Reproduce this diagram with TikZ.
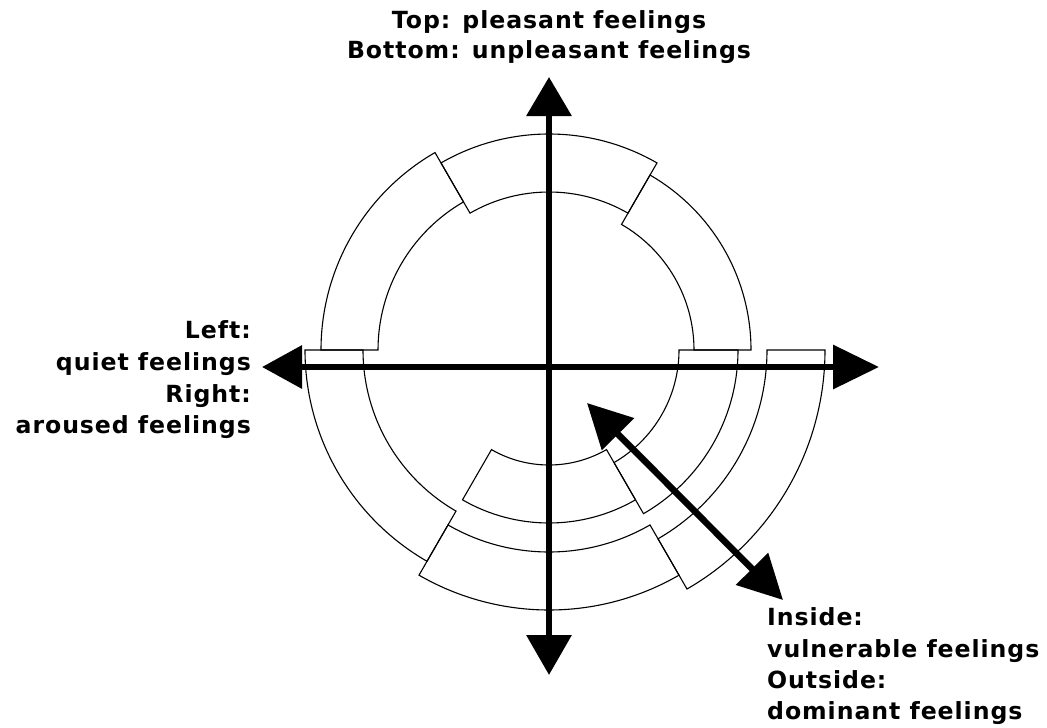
\documentclass[tikz,border=0pt]{standalone}
\usepackage{fontspec}
\setmainfont{DejaVu Sans}[LetterSpace=4]
\usetikzlibrary{arrows.meta}
\tikzset{
  arcline/.style={draw=black, line width=1.1pt, line join=miter},
  axisline/.style={line width=6.5pt, draw=black},
  lbl/.style={inner sep=0pt, font=\fontsize{23.6}{28}\selectfont\bfseries}
}
\newcommand\ringpiece[4]{% inner radius, outer radius, start angle, end angle
  \draw[arcline] (#3:#1) arc[start angle=#3, end angle=#4, radius=#1]
    -- (#4:#2) arc[start angle=#4, end angle=#3, radius=#2] -- cycle;}
\begin{document}
\begin{tikzpicture}[x=1pt, y=-1pt]
\useasboundingbox (0,0) rectangle (1047,728);
\coordinate (C) at (549,350);
% ring pieces (angles measured with y pointing down)
\begin{scope}[shift={(C)}]
  \ringpiece{171}{228}{180}{240}
  \ringpiece{158}{216}{240}{300}
  \ringpiece{145}{202}{300}{360}
  \ringpiece{186}{244}{120}{180}
  \ringpiece{115}{173}{60}{120}
  \ringpiece{202}{260}{60}{120}
  \ringpiece{130}{189}{0}{60}
  \ringpiece{218}{276}{0}{60}
\end{scope}
% axes
\coordinate (top) at (549,77);
\coordinate (bottom) at (549,675);
\coordinate (left) at (262,367);
\coordinate (right) at (879,367);
\coordinate (dup) at (587,403);
\coordinate (ddown) at (783,600);
\draw[axisline, {Triangle[length=40pt,width=44pt]}-{Triangle[length=39pt,width=44pt]}] (bottom) -- (top);
\draw[axisline, {Triangle[length=40pt,width=42pt]}-{Triangle[length=46pt,width=43pt]}] (left) -- (right);
\draw[axisline, {Triangle[length=44pt,width=44pt]}-{Triangle[length=44pt,width=44pt]}] (dup) -- (ddown);
% labels
\node[lbl, anchor=base] (t1) at (549,28) {Top: pleasant feelings};
\node[lbl, anchor=base] (t2) at (549,58) {Bottom: unpleasant feelings};
\node[lbl, anchor=base east] (l1) at (251,338) {Left:};
\node[lbl, anchor=base east] (l2) at (251,370) {quiet feelings};
\node[lbl, anchor=base east] (l3) at (251,402) {Right:};
\node[lbl, anchor=base east] (l4) at (251,433) {aroused feelings};
\node[lbl, anchor=base west] (r1) at (767,625) {Inside:};
\node[lbl, anchor=base west] (r2) at (767,657) {vulnerable feelings};
\node[lbl, anchor=base west] (r3) at (767,688) {Outside:};
\node[lbl, anchor=base west] (r4) at (767,719) {dominant feelings};
\end{tikzpicture}
\end{document}
